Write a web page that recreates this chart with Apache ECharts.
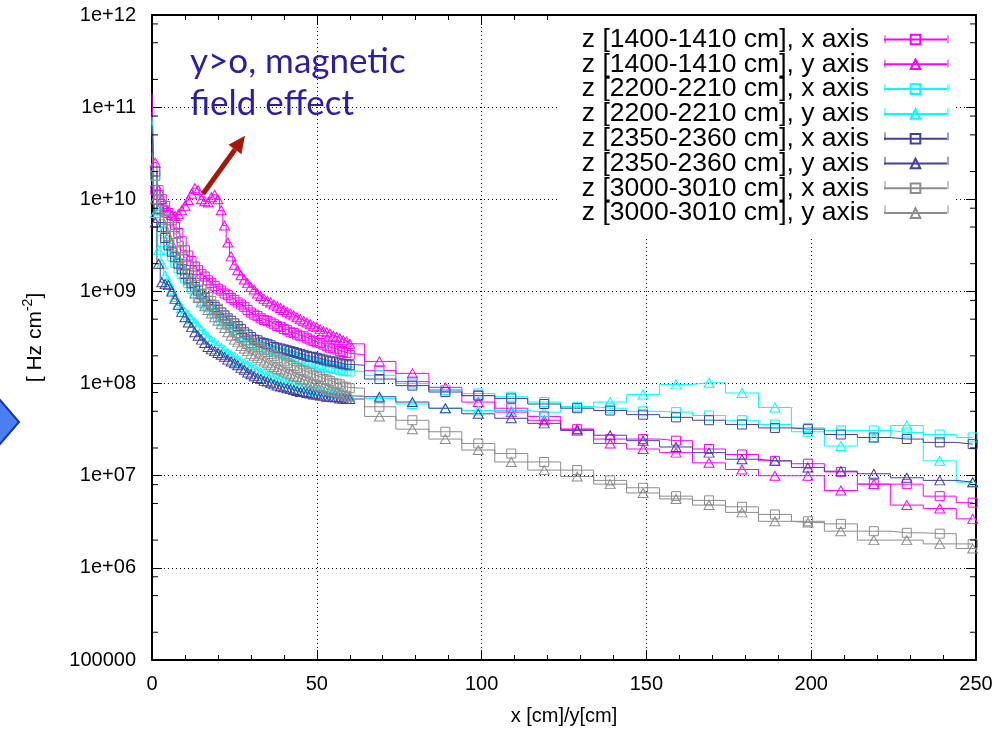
<!DOCTYPE html>
<html><head><meta charset="utf-8">
<script src="https://cdn.jsdelivr.net/npm/echarts@6/dist/echarts.min.js"></script>
<style>html,body{margin:0;padding:0;background:#fff}#c{width:1000px;height:735px}</style>
</head><body><div id="c"></div>
<script>
// x positions [cm]
const xCm = [0,1,2,3,4,5,6,7,8,9,10,11,12,13,14,15,16,17,18,19,20,21,22,23,24,25,26,27,28,29,30,
  31,32,33,34,35,36,37,38,39,40,41,42,43,44,45,46,47,48,49,50,51,52,53,54,55,56,57,58,59,60,
  69,79,89,99,109,119,129,139,149,159,169,179,189,199,209,219,229,239,249];

const seriesNames = [
  'z [1400-1410 cm], x axis','z [1400-1410 cm], y axis',
  'z [2200-2210 cm], x axis','z [2200-2210 cm], y axis',
  'z [2350-2360 cm], x axis','z [2350-2360 cm], y axis',
  'z [3000-3010 cm], x axis','z [3000-3010 cm], y axis'];

const yTickLabels = ['100000','1e+06','1e+07','1e+08','1e+09','1e+10','1e+11','1e+12'];

const z1400x = [8.9e10,1.26e10,1.12e10,1.0e10,8.5e9,7.1e9,5.9e9,5.0e9,4.3e9,3.5e9,2.8e9,
 2.45e9,2.14e9,1.86e9,1.7e9,1.55e9,1.45e9,1.32e9,1.23e9,1.15e9,1.07e9,
 1.02e9,9.5e8,9.1e8,8.5e8,8.1e8,7.6e8,7.2e8,6.8e8,6.3e8,5.9e8,
 5.6e8,5.4e8,5.1e8,4.9e8,4.8e8,4.6e8,4.4e8,4.2e8,4.1e8,3.9e8,
 3.8e8,3.6e8,3.55e8,3.4e8,3.3e8,3.25e8,3.1e8,3.0e8,2.9e8,2.8e8,
 2.75e8,2.65e8,2.55e8,2.45e8,2.4e8,2.35e8,2.25e8,2.2e8,2.15e8,2.05e8,
 1.38e8,1.05e8,8.5e7,7.4e7,5.4e7,4.4e7,3.2e7,2.5e7,2.5e7,2.4e7,1.95e7,1.7e7,1.45e7,1.35e7,1.1e7,8.1e6,8.1e6,6.0e6,5.1e6];

const z1400y = [1.4e11,2.5e10,1.26e10,1.0e10,8.3e9,7.4e9,6.8e9,6.6e9,6.9e9,7.6e9,8.5e9,
 9.8e9,1.15e10,1.32e10,1.26e10,1.0e10,9.5e9,9.3e9,1.05e10,1.12e10,1.0e10,
 7.6e9,5.2e9,3.4e9,2.4e9,1.95e9,1.7e9,1.5e9,1.35e9,1.23e9,1.12e9,
 1.05e9,9.5e8,8.9e8,8.3e8,7.9e8,7.6e8,7.2e8,6.9e8,6.6e8,6.3e8,
 6.0e8,5.75e8,5.5e8,5.25e8,5.0e8,4.8e8,4.6e8,4.4e8,4.2e8,4.1e8,
 3.9e8,3.7e8,3.6e8,3.5e8,3.3e8,3.2e8,3.1e8,2.95e8,2.85e8,2.7e8,
 1.74e8,1.29e8,9.1e7,6.3e7,4.9e7,4.0e7,3.2e7,2.24e7,1.95e7,1.78e7,1.38e7,1.17e7,1.0e7,1.0e7,6.9e6,8.1e6,4.8e6,4.4e6,3.4e6];

const z2200x = [7.1e10,1.8e10,7.1e9,4.5e9,3.4e9,2.8e9,2.4e9,2.05e9,1.78e9,1.55e9,1.38e9,
 1.23e9,1.07e9,9.5e8,8.7e8,7.9e8,7.2e8,6.8e8,6.2e8,5.75e8,5.25e8,
 4.9e8,4.6e8,4.3e8,4.0e8,3.8e8,3.55e8,3.3e8,3.1e8,2.95e8,2.75e8,
 2.7e8,2.6e8,2.5e8,2.4e8,2.35e8,2.3e8,2.25e8,2.2e8,2.15e8,2.1e8,
 2.05e8,2.0e8,1.95e8,1.86e8,1.82e8,1.78e8,1.74e8,1.7e8,1.66e8,1.62e8,
 1.58e8,1.55e8,1.51e8,1.48e8,1.45e8,1.45e8,1.41e8,1.38e8,1.38e8,1.35e8,
 1.23e8,1.0e8,8.5e7,7.8e7,7.2e7,6.3e7,5.6e7,5.4e7,5.0e7,4.9e7,4.5e7,4.0e7,3.6e7,3.3e7,3.1e7,3.1e7,2.95e7,2.8e7,2.6e7];

const z2200y = [7.9e10,7.1e9,2.8e9,2.0e9,1.5e9,1.26e9,1.05e9,8.7e8,7.4e8,6.6e8,6.0e8,
 5.5e8,5.0e8,4.6e8,4.2e8,3.8e8,3.5e8,3.2e8,2.95e8,2.75e8,2.6e8,
 2.45e8,2.3e8,2.15e8,2.05e8,1.95e8,1.82e8,1.74e8,1.66e8,1.58e8,1.51e8,
 1.45e8,1.38e8,1.32e8,1.29e8,1.23e8,1.2e8,1.15e8,1.12e8,1.1e8,1.05e8,
 1.02e8,1.0e8,9.8e7,9.5e7,9.3e7,9.1e7,8.9e7,8.7e7,8.5e7,8.3e7,
 8.3e7,8.1e7,7.9e7,7.9e7,7.8e7,7.8e7,7.6e7,7.6e7,7.4e7,7.4e7,
 6.9e7,6.0e7,5.4e7,5.1e7,5.1e7,4.9e7,5.6e7,6.3e7,7.6e7,9.8e7,1.02e8,7.9e7,5.5e7,3.0e7,2.1e7,2.6e7,3.5e7,1.45e7,8.5e6];

const z2350x = [6.3e10,2.0e10,7.9e9,5.0e9,3.8e9,3.16e9,2.7e9,2.35e9,2.0e9,1.74e9,1.55e9,
 1.38e9,1.23e9,1.12e9,1.02e9,9.3e8,8.5e8,7.9e8,7.2e8,6.8e8,6.3e8,
 5.9e8,5.5e8,5.1e8,4.8e8,4.5e8,4.2e8,3.9e8,3.6e8,3.4e8,3.2e8,
 3.0e8,2.95e8,2.8e8,2.75e8,2.7e8,2.6e8,2.5e8,2.45e8,2.4e8,2.35e8,
 2.3e8,2.25e8,2.2e8,2.15e8,2.1e8,2.05e8,2.0e8,1.95e8,1.95e8,1.9e8,
 1.86e8,1.82e8,1.78e8,1.74e8,1.74e8,1.7e8,1.66e8,1.62e8,1.62e8,1.58e8,
 1.12e8,9.5e7,8.1e7,7.4e7,6.9e7,6.0e7,5.4e7,5.1e7,4.6e7,4.3e7,4.0e7,3.6e7,3.3e7,3.2e7,2.8e7,2.6e7,2.5e7,2.3e7,2.2e7];

const z2350y = [4.0e10,5.6e9,2.0e9,1.26e9,1.2e9,1.17e9,1.0e9,8.3e8,7.1e8,6.0e8,5.25e8,
 4.6e8,4.1e8,3.6e8,3.3e8,3.0e8,2.75e8,2.5e8,2.35e8,2.25e8,2.15e8,
 2.05e8,1.95e8,1.82e8,1.74e8,1.66e8,1.58e8,1.48e8,1.41e8,1.32e8,1.26e8,
 1.2e8,1.15e8,1.12e8,1.07e8,1.05e8,1.02e8,9.8e7,9.5e7,9.3e7,9.1e7,
 8.9e7,8.7e7,8.5e7,8.3e7,8.1e7,8.1e7,7.9e7,7.8e7,7.6e7,7.6e7,
 7.4e7,7.4e7,7.2e7,7.2e7,7.1e7,7.1e7,6.9e7,6.9e7,6.8e7,6.8e7,
 7.2e7,6.3e7,5.4e7,4.7e7,4.2e7,3.7e7,3.1e7,2.75e7,2.4e7,2.05e7,1.78e7,1.51e7,1.45e7,1.23e7,1.12e7,1.05e7,9.5e6,8.9e6,8.5e6];

const z3000x = [3.2e10,1.8e10,1.26e10,9.5e9,7.6e9,6.0e9,5.0e9,4.2e9,3.4e9,2.8e9,2.35e9,
 1.9e9,1.58e9,1.32e9,1.17e9,1.05e9,9.5e8,8.7e8,7.9e8,7.1e8,6.5e8,
 5.9e8,5.4e8,4.9e8,4.5e8,4.1e8,3.8e8,3.5e8,3.2e8,2.95e8,2.75e8,
 2.6e8,2.5e8,2.4e8,2.3e8,2.2e8,2.1e8,2.0e8,1.9e8,1.82e8,1.74e8,
 1.66e8,1.58e8,1.55e8,1.48e8,1.41e8,1.38e8,1.32e8,1.29e8,1.23e8,1.2e8,
 1.17e8,1.12e8,1.1e8,1.07e8,1.02e8,1.0e8,9.8e7,9.3e7,9.1e7,8.9e7,
 5.6e7,4.0e7,3.0e7,2.24e7,1.74e7,1.41e7,1.15e7,8.9e6,7.4e6,6.0e6,5.4e6,4.6e6,3.8e6,3.2e6,3.0e6,2.5e6,2.4e6,2.35e6,1.82e6];

const z3000y = [2.5e10,1.0e10,7.6e9,6.0e9,4.9e9,4.0e9,3.3e9,2.75e9,2.3e9,1.9e9,1.58e9,
 1.32e9,1.12e9,9.5e8,8.5e8,7.6e8,6.9e8,6.3e8,5.75e8,5.25e8,4.8e8,
 4.4e8,4.0e8,3.6e8,3.3e8,3.0e8,2.8e8,2.55e8,2.4e8,2.25e8,2.1e8,
 2.0e8,1.9e8,1.82e8,1.74e8,1.66e8,1.58e8,1.51e8,1.45e8,1.41e8,1.35e8,
 1.29e8,1.26e8,1.2e8,1.17e8,1.12e8,1.1e8,1.05e8,1.02e8,1.0e8,9.5e7,
 9.3e7,9.1e7,8.7e7,8.5e7,8.3e7,8.1e7,7.8e7,7.6e7,7.4e7,7.2e7,
 4.4e7,3.2e7,2.5e7,1.9e7,1.41e7,1.15e7,9.8e6,8.1e6,6.5e6,5.6e6,4.8e6,4.0e6,3.2e6,3.1e6,2.5e6,2.0e6,2.0e6,1.82e6,1.62e6];

const allValues = [z1400x, z1400y, z2200x, z2200y, z2350x, z2350y, z3000x, z3000y];
const colors = ['#ff00ff','#ff00ff','#00ffff','#00ffff','#40409c','#40409c','#8c8c8c','#8c8c8c'];
const symbols = ['rect','triangle','rect','triangle','rect','triangle','rect','triangle'];

const FONT = 'Liberation Sans, Arial, sans-serif';
const chart = echarts.init(document.getElementById('c'), null, {renderer: 'canvas'});

const series = allValues.map((vals, s) => ({
  name: seriesNames[s],
  type: 'line',
  step: 'middle',
  showAllSymbol: true,
  symbol: symbols[s],
  symbolSize: symbols[s] === 'rect' ? 9 : [10, 9],
  data: xCm.map((x, i) => i === 0 ? {value: [x, vals[i]], symbol: 'none'} : [x, vals[i]]),
  lineStyle: {color: colors[s], width: 1},
  itemStyle: {color: 'rgba(255,255,255,0)', borderColor: colors[s], borderWidth: 1},
  emphasis: {disabled: true},
  animation: false
}));

const tickFmt = v => yTickLabels[Math.round(Math.log10(v)) - 5];

const dotted = {show: true, lineStyle: {color: '#000', type: [1, 3], width: 1}};

const LEG_TOP = 16, LEG_PAD_TOP = 10, LEG_FONT = 26.5, LEG_ROW = 24.3;

chart.setOption({
  backgroundColor: '#fff',
  animation: false,
  textStyle: {fontFamily: FONT},
  grid: {left: 152, right: 24, top: 15, bottom: 75, containLabel: false},
  legend: {
    orient: 'vertical', right: 44, top: LEG_TOP, align: 'right',
    itemWidth: 63, itemHeight: 12, itemGap: LEG_ROW - LEG_FONT,
    backgroundColor: '#fff', padding: [LEG_PAD_TOP, 8, 10, 24],
    textStyle: {fontSize: LEG_FONT, fontFamily: FONT, color: '#000', padding: [0, 10, 0, 0]},
    selectedMode: false,
    data: seriesNames
  },
  xAxis: [{
    type: 'value', min: 0, max: 250, interval: 50, position: 'bottom',
    name: 'x [cm]/y[cm]', nameLocation: 'middle', nameGap: 46,
    nameTextStyle: {fontSize: 20, color: '#000', fontFamily: FONT},
    axisLine: {show: true, onZero: false, lineStyle: {color: '#000', width: 2}},
    axisTick: {inside: true, length: 10, lineStyle: {color: '#000'}},
    minorTick: {show: true, splitNumber: 5, length: 5, lineStyle: {color: '#000'}},
    axisLabel: {fontSize: 20, color: '#000', margin: 14, fontFamily: FONT},
    splitLine: dotted
  }, {
    type: 'value', min: 0, max: 250, interval: 50, position: 'top',
    axisLine: {show: true, onZero: false, lineStyle: {color: '#000', width: 2}},
    axisTick: {inside: true, length: 10, lineStyle: {color: '#000'}},
    minorTick: {show: true, splitNumber: 5, length: 5, lineStyle: {color: '#000'}},
    axisLabel: {show: false}, splitLine: {show: false}
  }],
  yAxis: [{
    type: 'log', logBase: 10, min: 1e5, max: 1e12, interval: 1, position: 'left',
    name: '{n|[ Hz cm}{s|-2}{n|]}', nameLocation: 'middle', nameGap: 106, nameRotate: 90,
    nameTextStyle: {rich: {
      n: {fontSize: 21, color: '#000', fontFamily: FONT, lineHeight: 25, verticalAlign: 'bottom'},
      s: {fontSize: 14, color: '#000', fontFamily: FONT, lineHeight: 25, verticalAlign: 'top'}}},
    axisLine: {show: true, onZero: false, lineStyle: {color: '#000', width: 2}},
    axisTick: {inside: true, length: 10, lineStyle: {color: '#000'}},
    axisLabel: {fontSize: 20, color: '#000', margin: 16, formatter: tickFmt, fontFamily: FONT},
    splitLine: dotted
  }, {
    type: 'log', logBase: 10, min: 1e5, max: 1e12, interval: 1, position: 'right',
    axisLine: {show: true, onZero: false, lineStyle: {color: '#000', width: 2}},
    axisTick: {inside: true, length: 10, lineStyle: {color: '#000'}},
    axisLabel: {show: false}, splitLine: {show: false}
  }],
  series: series
});

// decorations computed through the chart's own scales
function toPx(x, y) { return chart.convertToPixel({xAxisIndex: 0, yAxisIndex: 0}, [x, y]); }
const g = [];
const leftX = toPx(0, 1e6)[0], rightX = toPx(250, 1e6)[0];
for (let d = 5; d < 12; d++) {
  [2, 5, 8].forEach(m => {
    const y = toPx(0, m * Math.pow(10, d))[1];
    g.push({type: 'line', shape: {x1: leftX, y1: y, x2: leftX + 6, y2: y}, style: {stroke: '#000', lineWidth: 1}, z: 20});
    g.push({type: 'line', shape: {x1: rightX, y1: y, x2: rightX - 6, y2: y}, style: {stroke: '#000', lineWidth: 1}, z: 20});
  });
}
// annotation arrow
const a0 = toPx(15.5, 1.15e10), a1 = toPx(28.2, 4.9e10);
const dx = a1[0] - a0[0], dy = a1[1] - a0[1], L = Math.hypot(dx, dy), ux = dx / L, uy = dy / L;
const hl = 17, hw = 8;
const base = [a1[0] - ux * hl, a1[1] - uy * hl];
g.push({type: 'line', shape: {x1: a0[0], y1: a0[1], x2: base[0], y2: base[1]}, style: {stroke: '#a3190b', lineWidth: 5}, z: 30});
g.push({type: 'polygon', shape: {points: [a1, [base[0] - uy * hw, base[1] + ux * hw], [base[0] + uy * hw, base[1] - ux * hw]]}, style: {fill: '#a3190b'}, z: 30});
g.push({type: 'text', left: 190, top: 41, z: 30, style: {text: 'y>o, magnetic\nfield effect', font: '35px Lato, sans-serif', fill: '#2d1e9e', lineHeight: 42}});
// blue marker at left edge
g.push({type: 'polygon', shape: {points: [[-22, 422], [0, 400], [19, 422], [0, 444]]}, style: {fill: '#4a7ff2', stroke: '#1630b0', lineWidth: 2}, z: 30});
// error-bar caps on legend lines
for (let i = 0; i < 8; i++) {
  const cy = LEG_TOP + LEG_PAD_TOP + i * LEG_ROW + LEG_FONT / 2;
  [885, 948].forEach(cx => g.push({type: 'line', shape: {x1: cx, y1: cy - 4, x2: cx, y2: cy + 4}, style: {stroke: colors[i], lineWidth: 1}, z: 40}));
}
chart.setOption({graphic: g});
</script>
</body></html>
